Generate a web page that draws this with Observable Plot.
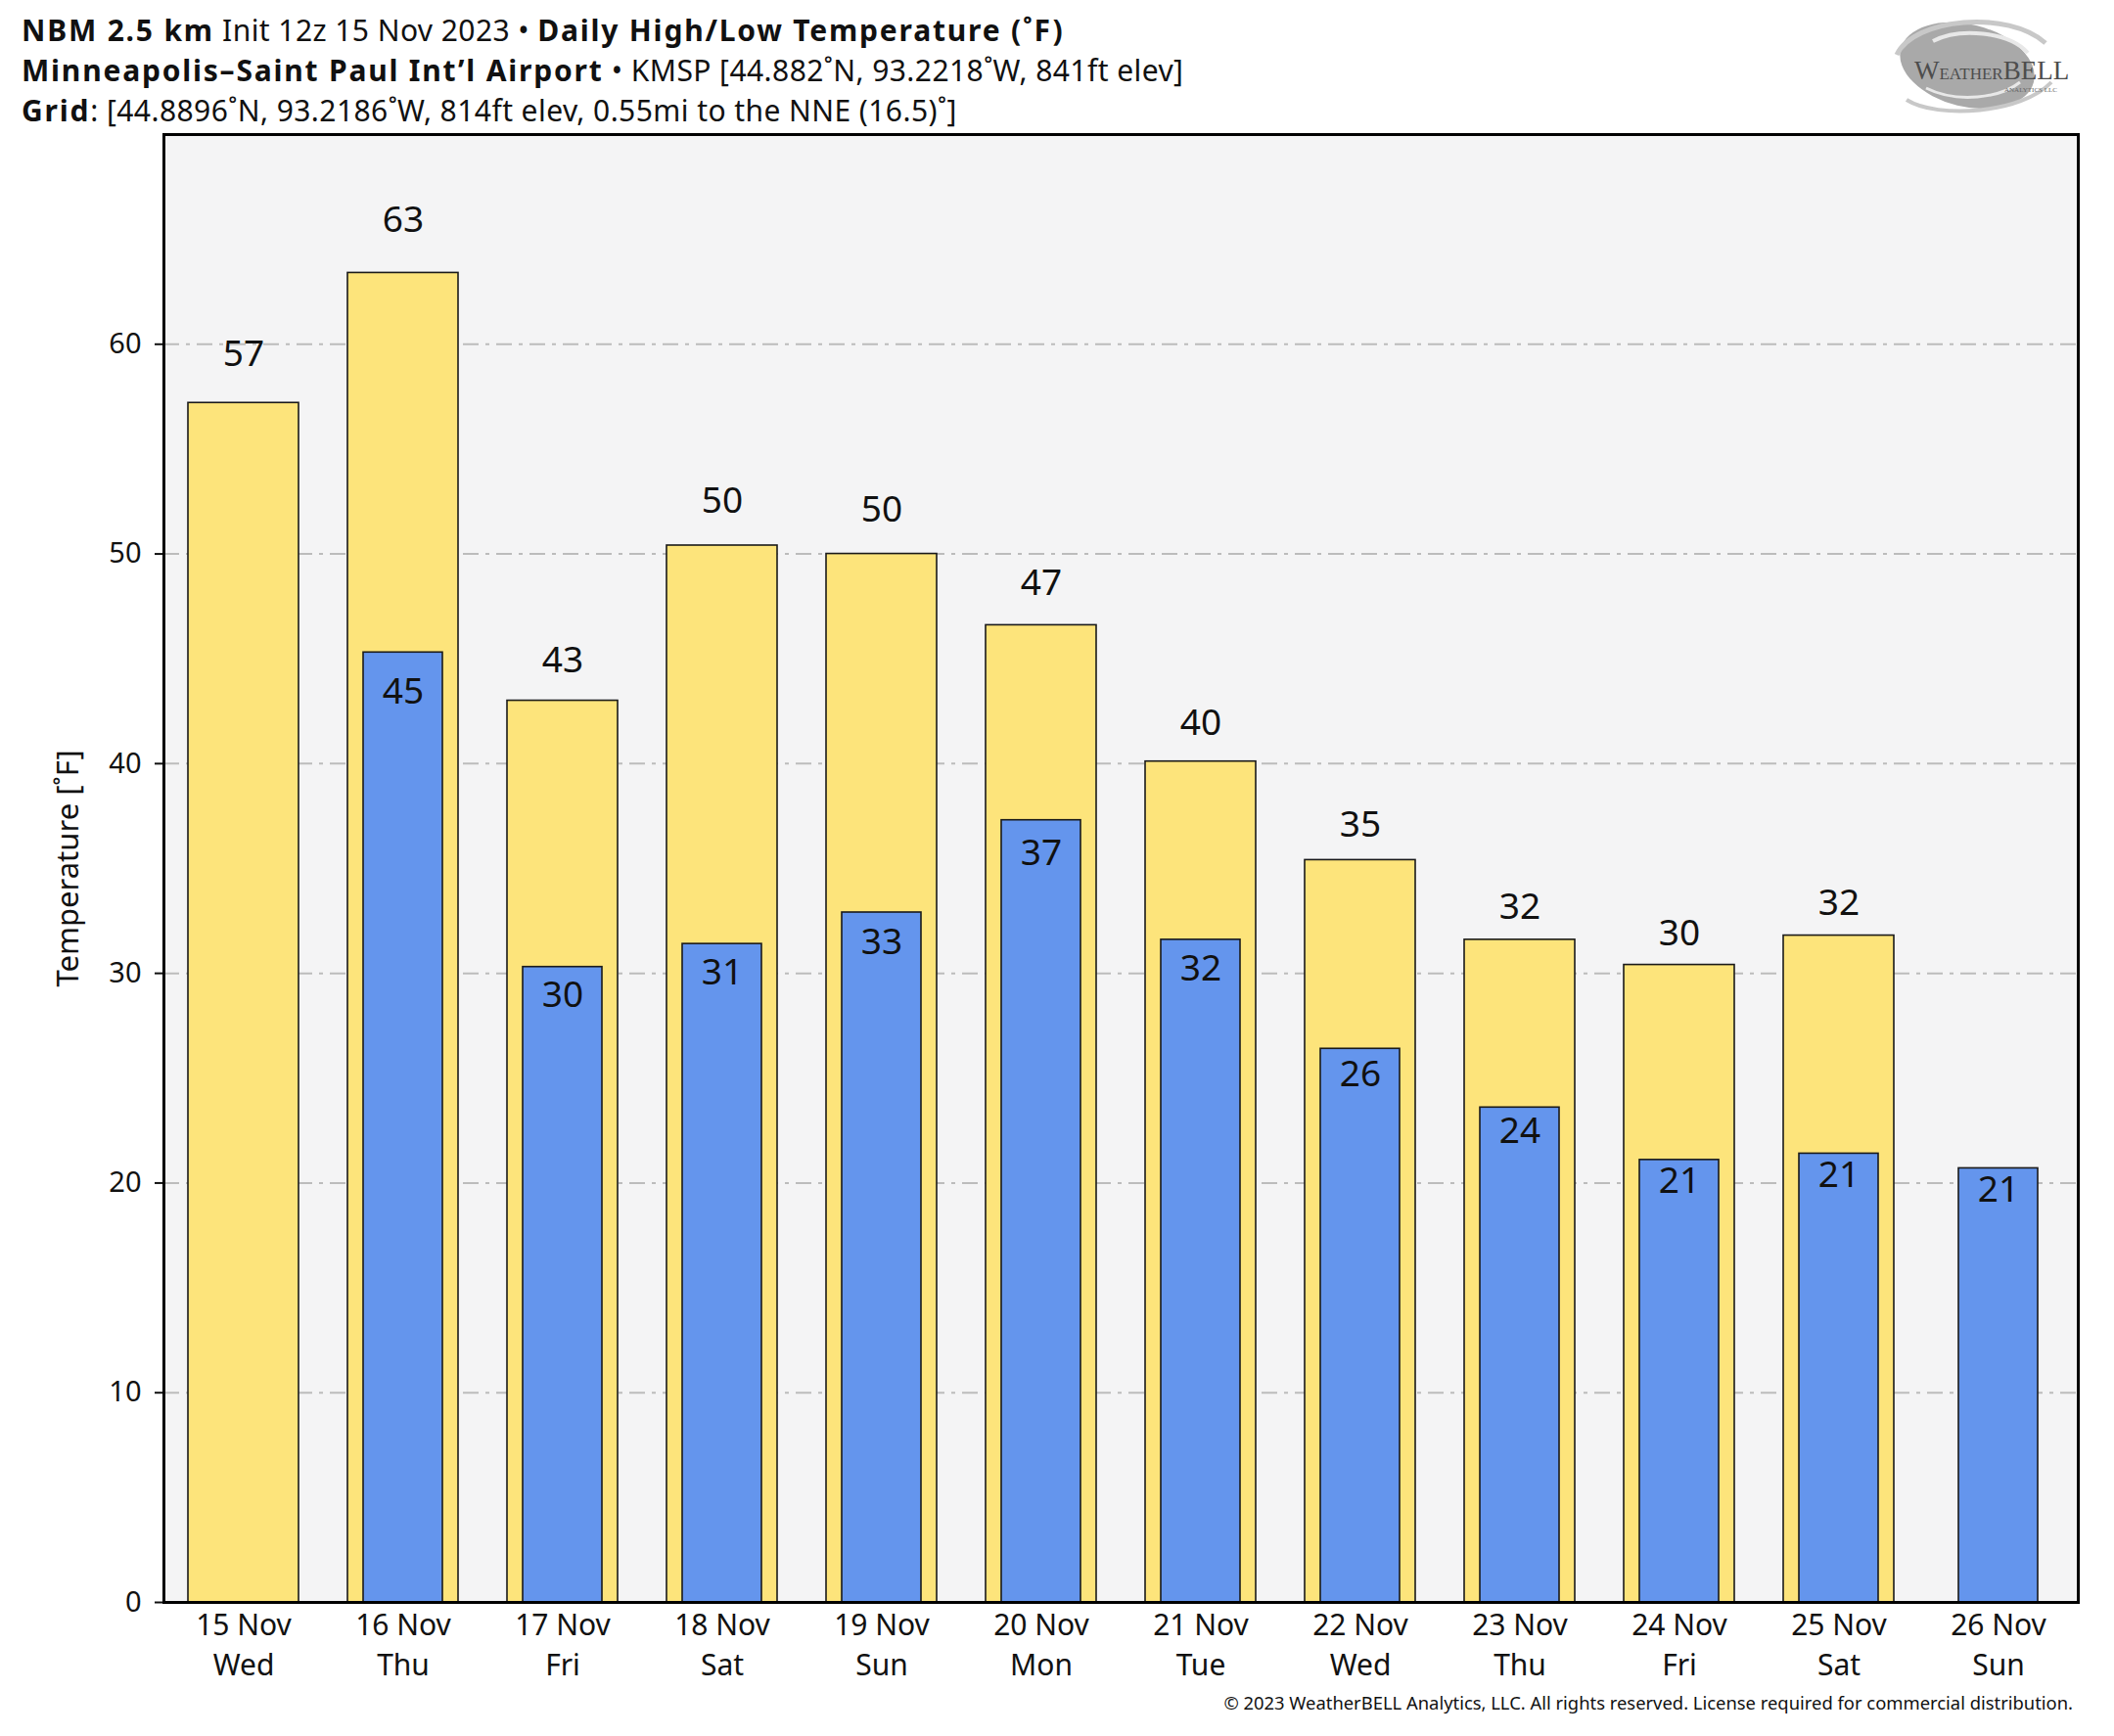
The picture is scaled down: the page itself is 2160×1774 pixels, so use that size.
<!DOCTYPE html>
<html>
<head>
<meta charset="utf-8">
<script src="https://cdn.jsdelivr.net/npm/d3@7"></script>
<script src="https://cdn.jsdelivr.net/npm/@observablehq/plot@0.6"></script>
<style>
  html, body { margin: 0; padding: 0; background: #fff; }
  #page { position: relative; width: 2160px; height: 1774px; background: #fff; font-family: "Noto Sans", sans-serif; color: #111; overflow: hidden; }
  .tline { position: absolute; left: 22px; font-size: 30px; letter-spacing: 0.43px; white-space: nowrap; line-height: 1; }
  .tline b { font-weight: 700; letter-spacing: 1.8px; }
  #chart { position: absolute; left: 0; top: 130px; }
  #copy { position: absolute; right: 42px; top: 1727px; font-size: 18.4px; white-space: nowrap; color: #111; }
  #logo { position: absolute; left: 1920px; top: 12px; }
</style>
</head>
<body>
<div id="page">
  <div class="tline" style="top:16px"><b>NBM 2.5 km</b> Init 12z 15 Nov 2023 • <b>Daily High/Low Temperature (˚F)</b></div>
  <div class="tline" style="top:57px"><b>Minneapolis–Saint Paul Int’l Airport</b> • KMSP [44.882˚N, 93.2218˚W, 841ft elev]</div>
  <div class="tline" style="top:98px"><b>Grid</b>: [44.8896˚N, 93.2186˚W, 814ft elev, 0.55mi to the NNE (16.5)˚]</div>
  <svg id="logo" width="210" height="110" viewBox="0 0 210 110">
    <ellipse cx="90" cy="55" rx="70" ry="42" fill="#a9a9a9" transform="rotate(14 90 55)"/>
    <path d="M18 44 C 36 6, 132 -2, 170 32" fill="none" stroke="#c8c8c8" stroke-width="5"/>
    <path d="M28 90 C 60 110, 146 104, 176 72" fill="none" stroke="#c8c8c8" stroke-width="4"/>
    <path d="M55 30 C 82 16, 132 20, 152 42" fill="none" stroke="#e8e8e8" stroke-width="4"/>
    <path d="M48 78 C 80 94, 124 88, 144 72" fill="none" stroke="#e8e8e8" stroke-width="3"/>
    <text x="36" y="69" font-family="Liberation Serif, DejaVu Serif, serif" font-size="27" fill="#4d4d4d">W<tspan font-size="17">EATHER</tspan>BELL</text>
    <text x="128" y="82" font-family="Liberation Serif, serif" font-size="7" fill="#666">ANALYTICS LLC</text>
  </svg>
  <div id="chart"></div>
  <div id="copy">© 2023 WeatherBELL Analytics, LLC. All rights reserved. License required for commercial distribution.</div>
</div>
<script>
const days = ["15 Nov","16 Nov","17 Nov","18 Nov","19 Nov","20 Nov","21 Nov","22 Nov","23 Nov","24 Nov","25 Nov","26 Nov"];
const weekdays = ["Wed","Thu","Fri","Sat","Sun","Mon","Tue","Wed","Thu","Fri","Sat","Sun"];
const highs = [57.2, 63.4, 43.0, 50.4, 50.0, 46.6, 40.1, 35.4, 31.6, 30.4, 31.8, null];
const lows  = [null, 45.3, 30.3, 31.4, 32.9, 37.3, 31.6, 26.4, 23.6, 21.1, 21.4, 20.7];
const yTicks = [0, 10, 20, 30, 40, 50, 60];
const yLabel = "Temperature [˚F]";

const rows = days.map((d, i) => ({day: d, wd: weekdays[i], high: highs[i], low: lows[i]}));
const highRows = rows.filter(r => r.high != null);
const lowRows = rows.filter(r => r.low != null);
const wdOf = Object.fromEntries(rows.map(r => [r.day, r.wd]));

const chart = Plot.plot({
  width: 2160,
  height: 1644,
  marginTop: 7,
  marginBottom: 137,
  marginLeft: 167,
  marginRight: 37,
  style: {fontFamily: "Noto Sans", fontSize: "30px", color: "#111", background: "transparent"},
  x: {type: "band", domain: days, padding: 0, label: null},
  y: {domain: [0, 70], label: null},
  marks: [
    Plot.frame({fill: "#f4f4f5", stroke: null}),
    Plot.gridY(yTicks.filter(t => t > 0), {stroke: "#bcbcbc", strokeOpacity: 1, strokeWidth: 2, strokeDasharray: "16,7,4,7"}),
    Plot.barY(highRows, {x: "day", y: "high", fill: "#fde47b", stroke: "#1a1a1a", strokeWidth: 1.6, insetLeft: 25, insetRight: 25}),
    Plot.barY(lowRows, {x: "day", y: "low", fill: "#6495ed", stroke: "#1a1a1a", strokeWidth: 1.6, insetLeft: 41, insetRight: 41}),
    // value labels: placed just above the high bar / just inside the top of the low bar
    Plot.text(highRows, {x: "day", y: d => d.high * 1.03 + 0.6, text: d => String(Math.round(d.high)), fontSize: 37, fill: "#111"}),
    Plot.text(lowRows, {x: "day", y: d => d.low * 0.965 - 0.3, text: d => String(Math.round(d.low)), fontSize: 37, fill: "#111"}),
    Plot.axisY({ticks: yTicks, tickSize: 9, tickPadding: 14, fontSize: 29, strokeWidth: 2, label: null, tickFormat: d => String(d)}),
    Plot.axisX({tickSize: 0, tickPadding: 4, fontSize: 30, lineHeight: 1.375, label: null, tickFormat: d => d + "\n" + wdOf[d]}),
    Plot.frame({stroke: "#000", strokeWidth: 3}),
    Plot.text([yLabel], {frameAnchor: "left", dx: -97, rotate: -90, textAnchor: "middle", fontSize: 31, fill: "#111", text: d => d})
  ]
});
document.getElementById("chart").appendChild(chart);
</script>
</body>
</html>
